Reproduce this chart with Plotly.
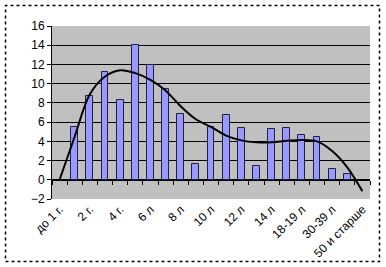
import plotly.graph_objects as go

categories = ["до 1 г.", "1 г.", "2 г.", "3 г.", "4 г.", "5 л", "6 л", "7 л", "8 л", "9 л",
              "10 л", "11 л", "12 л", "13 л", "14 л", "15-17 л", "18-19 л", "20-29 л",
              "30-39 л", "40-49 л", "50 и старше"]
values = [None, 5.5, 8.7, 11.2, 8.3, 14.0, 11.9, 9.4, 6.8, 1.6,
          5.5, 6.7, 5.4, 1.4, 5.3, 5.4, 4.7, 4.5, 1.1, 0.6, None]
trend = [0, 4.5, 8.9, 10.75, 11.4, 11.1, 10.4, 9.3, 7.65, 6.3,
         5.5, 4.6, 4.1, 3.9, 3.9, 4.05, 4.15, 4.0, 3.0, 1.3, -1.2]
y_ticks = [-2, 0, 2, 4, 6, 8, 10, 12, 14, 16]

idx = list(range(len(categories)))
label_idx = idx[::2]
label_txt = [categories[i] for i in label_idx]
boundaries = [i + 0.5 for i in range(-1, len(categories))]

fig = go.Figure()
fig.add_trace(go.Bar(x=idx, y=values, width=0.46,
                     marker=dict(color="#9999ff", line=dict(color="#202040", width=1)),
                     hoverinfo="skip"))
fig.add_trace(go.Scatter(x=idx, y=trend, mode="lines",
                         line=dict(color="black", width=2, shape="spline", smoothing=1.0)))
fig.add_trace(go.Scatter(x=[0], y=[0], xaxis="x2", mode="markers",
                         marker=dict(opacity=0), hoverinfo="skip"))

font = dict(family="Liberation Sans, Arial, sans-serif", size=12, color="black")

fig.update_layout(
    width=386, height=267,
    margin=dict(l=52, r=16, t=26, b=68),
    paper_bgcolor="white",
    plot_bgcolor="#c0c0c0",
    showlegend=False,
    font=font,
    bargap=0,
    xaxis=dict(range=[-0.5, 20.5], tickmode="array", tickvals=label_idx, ticktext=label_txt,
               tickangle=-45, ticks="", showgrid=False, zeroline=False, showline=False,
               tickfont=font, automargin=False),
    xaxis2=dict(range=[-0.5, 20.5], overlaying="x", anchor="free", position=2 / 18,
                tickmode="array", tickvals=boundaries, ticks="outside", ticklen=4,
                tickcolor="black", showticklabels=False, showgrid=False, zeroline=False,
                showline=True, linecolor="black", linewidth=1, side="bottom",
                automargin=False),
    yaxis=dict(range=[-2, 16], tickmode="array", tickvals=y_ticks, ticks="outside",
               ticklen=4, tickcolor="black", showgrid=True, gridcolor="black", gridwidth=1,
               zeroline=False, showline=True, linecolor="black", linewidth=1,
               tickfont=font, automargin=False),
    shapes=[dict(type="rect", xref="paper", yref="paper",
                 x0=(5.5 - 52) / 318, x1=(379.5 - 52) / 318,
                 y0=(199 - 261.5) / 173, y1=(199 - 5.5) / 173,
                 line=dict(color="black", width=1.5, dash="dot"), layer="below")],
)

fig.write_html("out.html")
